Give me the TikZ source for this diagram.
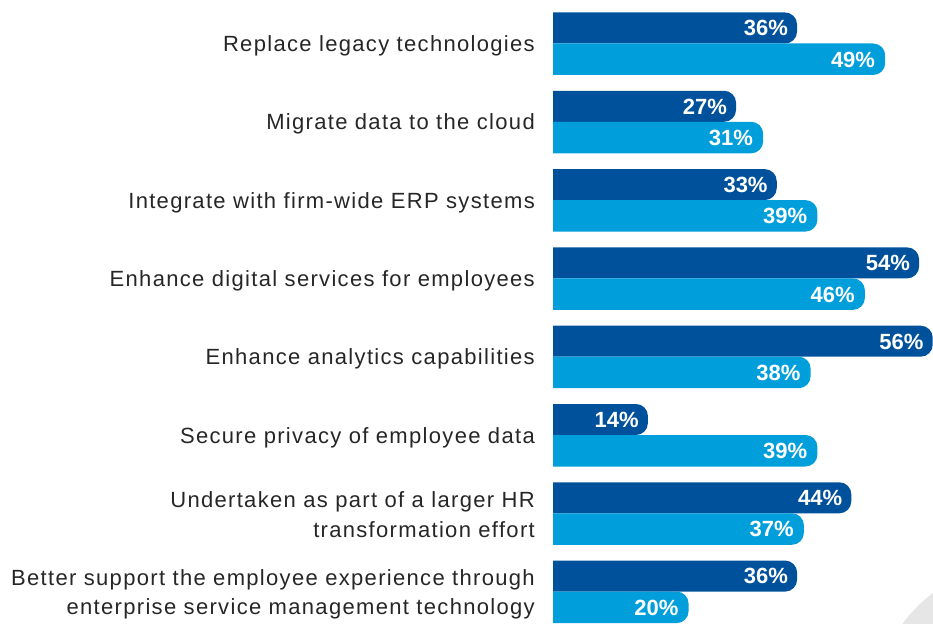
\documentclass[tikz,border=0pt]{standalone}
\usepackage{fontspec}
\setmainfont{Liberation Sans}
\newfontfamily\labfont[LetterSpace=6]{Liberation Sans}
\definecolor{darkb}{HTML}{00519B}
\definecolor{lightb}{HTML}{009FDC}
\definecolor{txt}{HTML}{262626}
\definecolor{circ}{HTML}{E6E6E6}
\begin{document}
\begin{tikzpicture}[x=1pt,y=-1pt,
  lab/.style={anchor=base east, inner sep=0pt, font=\labfont\fontsize{22}{26}\selectfont, text=txt},
  pct/.style={anchor=base east, inner sep=0pt, font=\fontsize{22}{26}\selectfont\bfseries, text=white},
  barshape/.style={rounded corners=12pt}]
\useasboundingbox (0,0) rectangle (933,623);
\fill[circ] (1023,713) circle (150);
\begin{scope}
\clip (553,0) rectangle (940,630);
\foreach \i/\d/\l in {0/36/49, 1/27/31, 2/33/39, 3/54/46, 4/56/38, 5/14/39, 6/44/37, 7/36/20} {
  \pgfmathsetmacro{\t}{12.5+78.3*\i}
  \pgfmathsetmacro{\tm}{\t+31}
  \pgfmathsetmacro{\tb}{\t+62.5}
  \pgfmathsetmacro{\xd}{553+6.78*\d}
  \pgfmathsetmacro{\xl}{553+6.78*\l}
  \fill[darkb, barshape] (530,\t) rectangle (\xd,\tm);
  \fill[lightb, barshape] (530,\tm) rectangle (\xl,\tb);
}
\end{scope}
\foreach \i/\d/\l in {0/36/49, 1/27/31, 2/33/39, 3/54/46, 4/56/38, 5/14/39, 6/44/37, 7/36/20} {
  \pgfmathsetmacro{\t}{12.5+78.3*\i}
  \pgfmathsetmacro{\xd}{553+6.78*\d}
  \pgfmathsetmacro{\xl}{553+6.78*\l}
  \node[pct] (pd\i) at (\xd-9,\t+15.5+7.8) {\d\%};
  \node[pct] (pl\i) at (\xl-10,\t+46.8+7.8) {\l\%};
}
\foreach \i/\txt in {0/Replace legacy technologies, 1/Migrate data to the cloud, 2/Integrate with firm-wide ERP systems, 3/Enhance digital services for employees, 4/Enhance analytics capabilities, 5/Secure privacy of employee data} {
  \pgfmathsetmacro{\t}{12.5+78.3*\i}
  \node[lab] (lab\i) at (535,\t+31+8) {\txt};
}
\node[lab] (lab6a) at (535,12.5+78.3*6+31-6) {Undertaken as part of a larger HR\ };
\node[lab] (lab6b) at (535,12.5+78.3*6+31+24) {transformation effort};
\node[lab] (lab7a) at (535,12.5+78.3*7+31-6) {Better support the employee experience through};
\node[lab] (lab7b) at (535,12.5+78.3*7+31+23) {enterprise service management technology};
\end{tikzpicture}
\end{document}
